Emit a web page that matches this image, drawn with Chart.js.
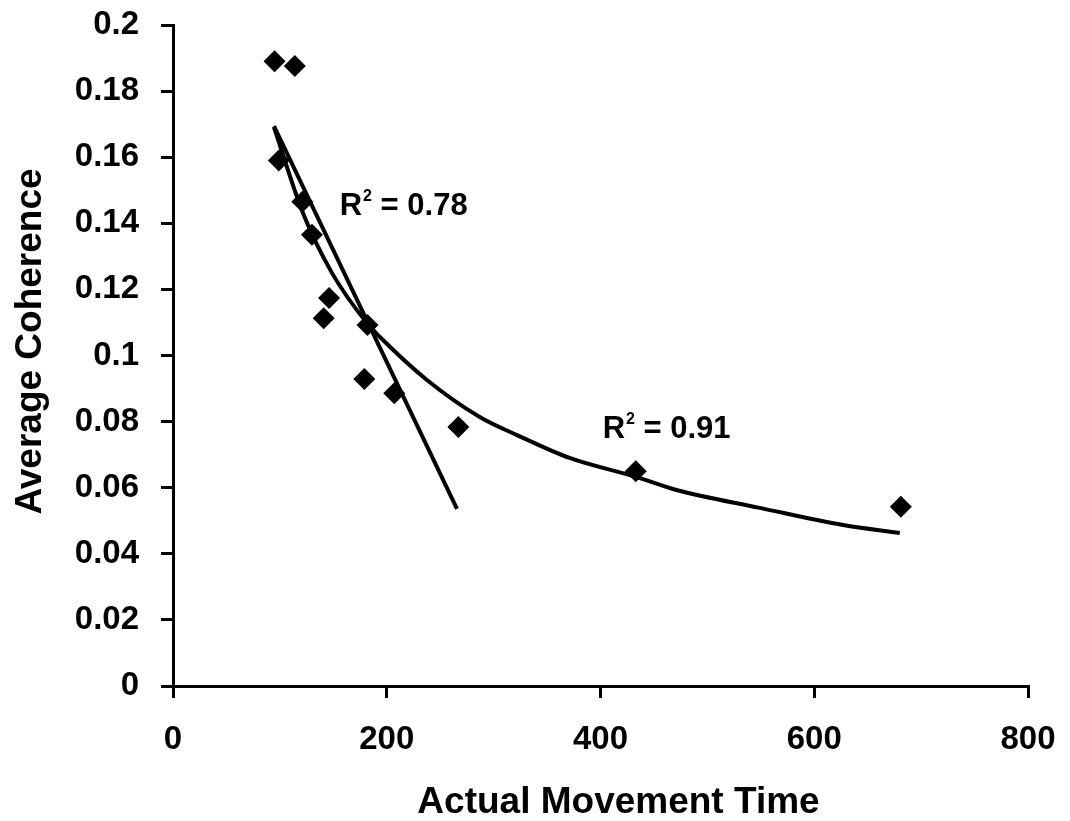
<!DOCTYPE html>
<html>
<head>
<meta charset="utf-8">
<script src="https://cdn.jsdelivr.net/npm/chart.js@4.4.1/dist/chart.umd.min.js"></script>
<style>
  html, body { margin: 0; padding: 0; background: #fff; }
  #wrap { width: 1070px; height: 821px; }
</style>
</head>
<body>
<div id="wrap"><canvas id="chart" width="1070" height="821"></canvas></div>
<script>
// measured points
const movementTime = [95, 114, 99, 121, 130, 146, 141, 182, 179, 207, 267, 433, 681];
const coherence = [0.189, 0.1876, 0.159, 0.1465, 0.1365, 0.1174, 0.1113, 0.1092, 0.0929, 0.0886, 0.0784, 0.065, 0.0542];

// straight trend line (at its ends)
const linFitX = [94.5, 265.7];
const linFitY = [0.1694, 0.0536];

// curved trend line
const curveFitX = [94.5, 121.6, 148.7, 181.5, 193.6, 237.6, 287, 322, 371, 434, 471, 549, 627, 680];
const curveFitY = [0.169, 0.1431, 0.125, 0.1098, 0.1056, 0.0926, 0.0814, 0.0759, 0.069, 0.0632, 0.0593, 0.0539, 0.0487, 0.0463];

const xTicks = [0, 200, 400, 600, 800];
const yTicks = [0, 0.02, 0.04, 0.06, 0.08, 0.1, 0.12, 0.14, 0.16, 0.18, 0.2];

// R² labels: text and anchor in data units
const r2Labels = ['0.78', '0.91'];
const r2X = [156, 402];
const r2Y = [0.1452, 0.0775];

const xTitle = 'Actual Movement Time';
const yTitle = 'Average Coherence';

const toXY = (xs, ys) => xs.map((x, i) => ({ x: x, y: ys[i] }));

const font = 'Liberation Sans, Arial, sans-serif';

const textPlugin = {
    id: 'texts',
    afterDatasetsDraw(chart) {
        const ctx = chart.ctx;
        const xs = chart.scales.x, ys = chart.scales.y;
        ctx.save();
        ctx.fillStyle = '#000';
        ctx.textBaseline = 'middle';
        ctx.textAlign = 'left';
        r2Labels.forEach((t, i) => {
            let px = xs.getPixelForValue(r2X[i]);
            const py = ys.getPixelForValue(r2Y[i]);
            ctx.font = 'bold 31px ' + font;
            ctx.fillText('R', px, py);
            px += ctx.measureText('R').width + 1;
            ctx.font = 'bold 16px ' + font;
            ctx.fillText('2', px, py - 10);
            px += ctx.measureText('2').width;
            ctx.font = 'bold 31px ' + font;
            ctx.fillText(' = ' + t, px, py);
        });
        // axis titles
        const area = chart.chartArea;
        ctx.font = 'bold 37px ' + font;
        ctx.textAlign = 'center';
        ctx.fillText(xTitle, (area.left + area.right) / 2 + 18, 803);
        ctx.translate(31, (area.top + area.bottom) / 2 - 14);
        ctx.rotate(-Math.PI / 2);
        ctx.fillText(yTitle, 0, 0);
        ctx.restore();
    }
};

new Chart(document.getElementById('chart').getContext('2d'), {
    type: 'scatter',
    data: {
        datasets: [{
            data: toXY(movementTime, coherence),
            pointStyle: 'rectRot',
            pointRadius: 11,
            pointHoverRadius: 11,
            backgroundColor: '#000',
            borderColor: '#000',
            borderWidth: 0
        }, {
            data: toXY(linFitX, linFitY),
            showLine: true,
            pointRadius: 0,
            borderColor: '#000',
            borderWidth: 4
        }, {
            data: toXY(curveFitX, curveFitY),
            showLine: true,
            pointRadius: 0,
            borderColor: '#000',
            borderWidth: 4,
            cubicInterpolationMode: 'monotone'
        }]
    },
    options: {
        responsive: false,
        animation: false,
        layout: { padding: { left: 0, top: 25, right: 42, bottom: 0 } },
        plugins: { legend: { display: false }, tooltip: { enabled: false } },
        scales: {
            x: {
                type: 'linear',
                min: 0, max: 800,
                afterBuildTicks: s => { s.ticks = xTicks.map(v => ({ value: v })); },
                afterFit: s => { s.height = 135; s.paddingLeft = 0; s.paddingRight = 0; },
                grid: { drawOnChartArea: false, drawTicks: true, tickLength: 12, color: '#000', lineWidth: 3 },
                border: { display: true, color: '#000', width: 3 },
                ticks: { color: '#000', padding: 22, maxRotation: 0, font: { family: font, size: 33, weight: 'bold' } }
            },
            y: {
                type: 'linear',
                min: 0, max: 0.2,
                afterBuildTicks: s => { s.ticks = yTicks.map(v => ({ value: v })); },
                afterFit: s => { s.width = 173; s.paddingTop = 0; s.paddingBottom = 0; },
                grid: { drawOnChartArea: false, drawTicks: true, tickLength: 12, color: '#000', lineWidth: 3 },
                border: { display: true, color: '#000', width: 3 },
                ticks: {
                    color: '#000', padding: 22,
                    font: { family: font, size: 33, weight: 'bold' },
                    callback: v => String(+v.toFixed(2))
                }
            }
        }
    },
    plugins: [textPlugin]
});
</script>
</body>
</html>
